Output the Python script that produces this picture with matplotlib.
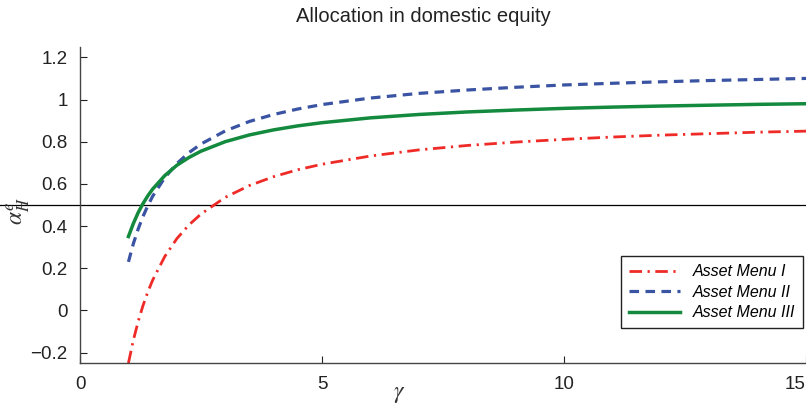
import matplotlib
matplotlib.use("Agg")
import matplotlib.pyplot as plt
import numpy as np

plt.rcParams['font.family'] = ['Liberation Sans', 'DejaVu Sans']
plt.rcParams['mathtext.fontset'] = 'stix'

# values
gamma = [1, 1.1, 1.2, 1.3, 1.4, 1.5, 1.75, 2, 2.25, 2.5, 3, 3.5, 4, 4.5, 5,
         6, 7, 8, 9, 10, 11, 12, 13, 14, 15]
menu1 = [-0.250, -0.143, -0.054, 0.022, 0.087, 0.143, 0.255, 0.340, 0.405, 0.457,
         0.536, 0.592, 0.634, 0.667, 0.693, 0.732, 0.761, 0.782, 0.798, 0.811,
         0.822, 0.831, 0.838, 0.845, 0.850]
menu2 = [0.230, 0.315, 0.385, 0.445, 0.496, 0.541, 0.629, 0.696, 0.748, 0.789,
         0.851, 0.896, 0.929, 0.955, 0.976, 1.007, 1.029, 1.045, 1.058, 1.069,
         1.077, 1.084, 1.090, 1.095, 1.100]
menu3 = [0.350, 0.411, 0.463, 0.506, 0.543, 0.575, 0.639, 0.688, 0.725, 0.755,
         0.800, 0.832, 0.856, 0.875, 0.890, 0.913, 0.929, 0.941, 0.950, 0.958,
         0.964, 0.969, 0.973, 0.977, 0.980]
yticks = [-0.2, 0, 0.2, 0.4, 0.6, 0.8, 1, 1.2]
yticklabels = ['\u22120.2', '0', '0.2', '0.4', '0.6', '0.8', '1', '1.2']
xticks = [0, 5, 10, 15]

fig = plt.figure(figsize=(8.06, 4.07), dpi=100)
ax = fig.add_axes([0.0993, 0.108, 0.9007, 0.777])

ax.plot(gamma, menu1, color='#ee2b27', lw=2.0, linestyle=(0, (4.5, 2, 0.8, 2)), label='Asset Menu I')
ax.plot(gamma, menu2, color='#3a53a3', lw=2.3, linestyle=(0, (3, 2)), label='Asset Menu II')
ax.plot(gamma, menu3, color='#138a3e', lw=2.5, label='Asset Menu III')
ax.axhline(0.5, xmin=-0.111, xmax=1, color='black', lw=0.9, clip_on=False, zorder=1)

ax.set_xlim(0, 15)
ax.set_ylim(-0.25, 1.25)
ax.set_xticks(xticks)
ax.set_xticklabels([str(t) for t in xticks])
ax.set_yticks(yticks)
ax.set_yticklabels(yticklabels)
ax.tick_params(direction='in', length=5, width=0.8, labelsize=13.5, pad=9, colors='#222222')
ax.get_xticklabels()[-1].set_horizontalalignment('right')
for s in ['top', 'right']:
    ax.spines[s].set_visible(False)
for s in ['left', 'bottom']:
    ax.spines[s].set_color('#444444')
    ax.spines[s].set_linewidth(1.0)

ax.set_xlabel(r'$\gamma$', fontsize=17, color='#333333')
ax.xaxis.set_label_coords(0.44, -0.063)
ax.set_ylabel(r'$\alpha_H^e$', fontsize=17, color='#333333')
ax.yaxis.set_label_coords(-0.066, 0.48)

fig.text(423 / 806, 1 - 17 / 407, 'Allocation in domestic equity', ha='center', va='center',
         fontsize=14.5, color='#222222')

leg = ax.legend(loc='lower right', bbox_to_anchor=(0.996, 0.11), borderaxespad=0,
                fancybox=False, framealpha=1, edgecolor='#222222',
                prop={'style': 'italic', 'size': 11.5},
                handlelength=3.2, borderpad=0.5, labelspacing=0.35)
leg.get_frame().set_linewidth(1.0)

fig.savefig('out.png', dpi=100)
